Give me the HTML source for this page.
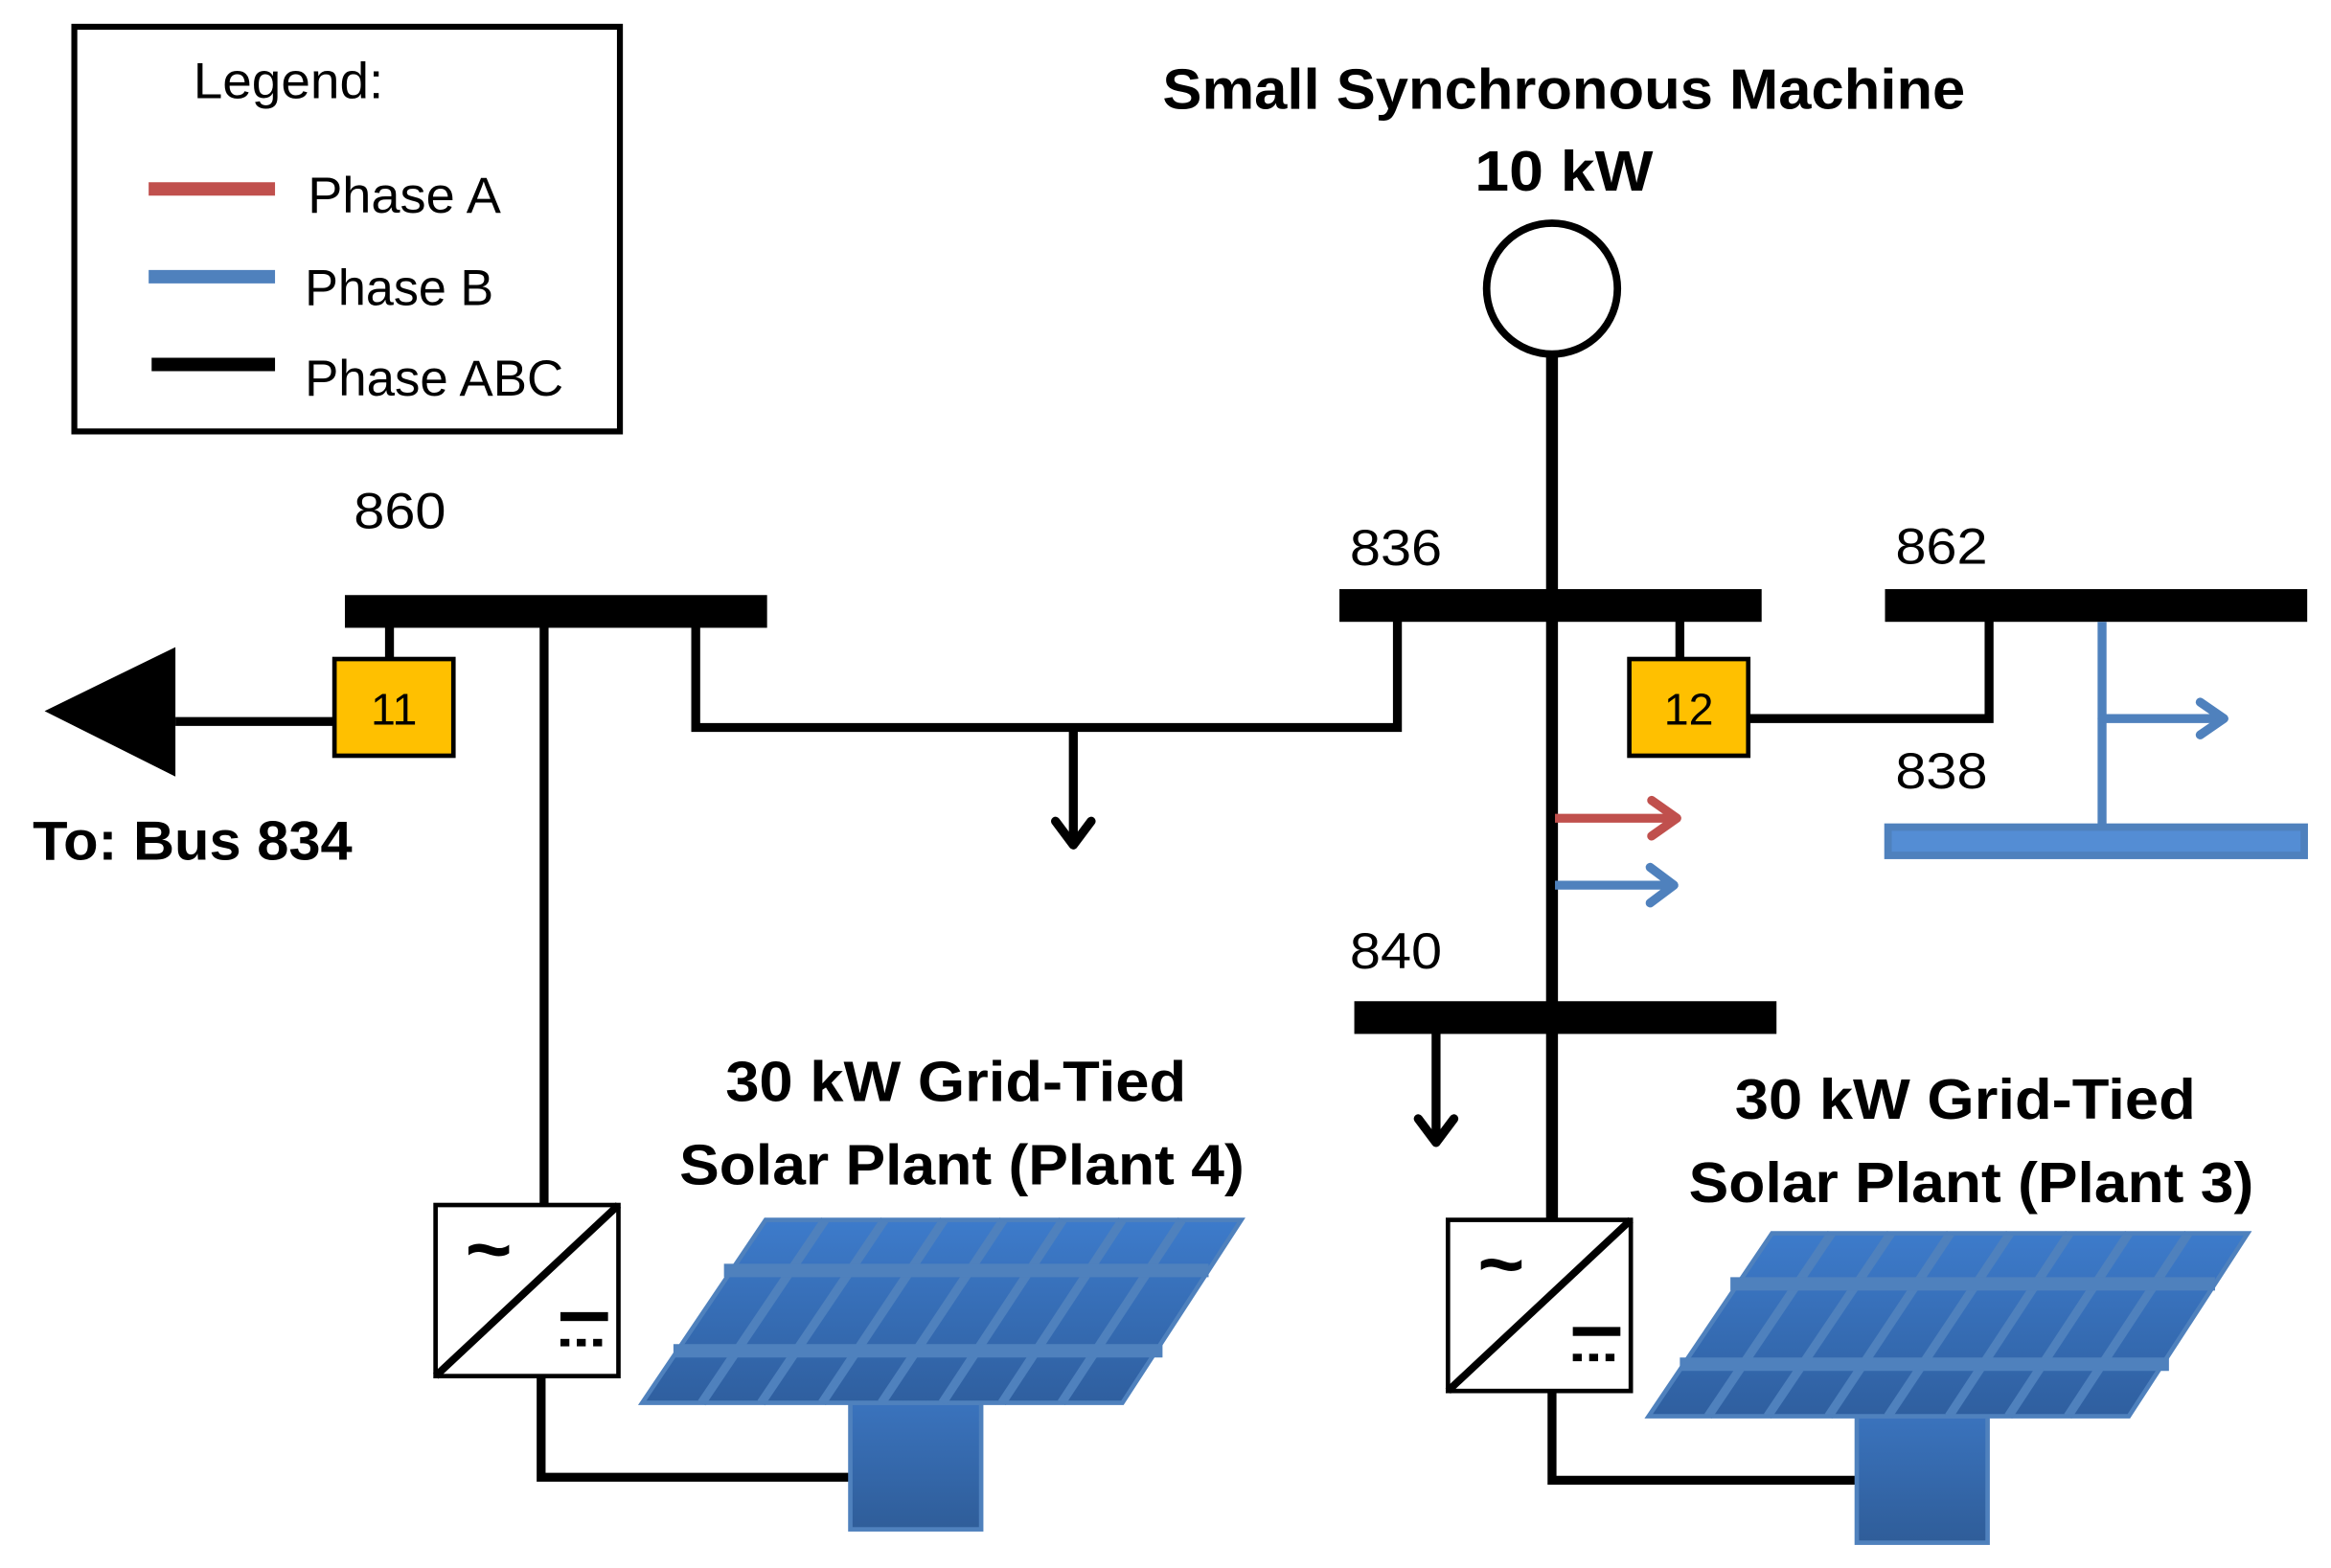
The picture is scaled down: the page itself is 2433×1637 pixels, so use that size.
<!DOCTYPE html>
<html><head><meta charset="utf-8"><style>
html,body{margin:0;padding:0;background:#fff;}
svg{display:block;}
text{font-family:"Liberation Sans",sans-serif;}
</style></head><body>
<svg width="2433" height="1637" viewBox="0 0 1568 1054" preserveAspectRatio="none" xmlns="http://www.w3.org/2000/svg">
<defs>
<linearGradient id="pg" x1="0" y1="0" x2="0" y2="1"><stop offset="0" stop-color="#3d7bcb"/><stop offset="1" stop-color="#2f5f9f"/></linearGradient>
<linearGradient id="sg" x1="0" y1="0" x2="0" y2="1"><stop offset="0" stop-color="#3a73bd"/><stop offset="1" stop-color="#2f5d99"/></linearGradient>
<g id="panel">
  <rect x="572" y="943" width="88" height="85" fill="url(#sg)" stroke="#4f81bd" stroke-width="3"/>
  <polygon points="515,820 835,820 755,943 432,943" fill="url(#pg)" stroke="#4f81bd" stroke-width="3"/>
  <g stroke="#4f81bd" stroke-width="6">
    <line x1="555" y1="820" x2="472" y2="943"/>
    <line x1="595" y1="820" x2="512" y2="943"/>
    <line x1="635" y1="820" x2="553" y2="943"/>
    <line x1="675" y1="820" x2="593" y2="943"/>
    <line x1="715" y1="820" x2="634" y2="943"/>
    <line x1="755" y1="820" x2="674" y2="943"/>
    <line x1="795" y1="820" x2="714" y2="943"/>
  </g>
  <g stroke="#4f81bd" stroke-width="9">
    <line x1="487" y1="854" x2="813" y2="854"/>
    <line x1="453" y1="908" x2="782" y2="908"/>
  </g>
</g>
<g id="inv">
  <rect x="0" y="0" width="123" height="115" fill="#fff" stroke="#000" stroke-width="3"/>
  <line x1="0" y1="115" x2="123" y2="0" stroke="#000" stroke-width="5"/>
  <text x="20" y="48" font-size="54" font-weight="bold">~</text>
  <rect x="84" y="72" width="32" height="6" fill="#000"/>
  <g fill="#000"><rect x="84" y="90" width="6" height="5"/><rect x="95" y="90" width="6" height="5"/><rect x="106" y="90" width="6" height="5"/></g>
</g>
</defs>

<rect x="50" y="18" width="367" height="272" fill="#fff" stroke="#000" stroke-width="4"/>
<text x="130" y="66" font-size="34" textLength="128" lengthAdjust="spacingAndGlyphs">Legend:</text>
<line x1="100" y1="127" x2="185" y2="127" stroke="#c0504d" stroke-width="9"/>
<line x1="100" y1="186" x2="185" y2="186" stroke="#4f81bd" stroke-width="9"/>
<line x1="102" y1="245" x2="185" y2="245" stroke="#000" stroke-width="9"/>
<text x="207" y="143" font-size="34" textLength="130" lengthAdjust="spacingAndGlyphs">Phase A</text>
<text x="205" y="205" font-size="34" textLength="127" lengthAdjust="spacingAndGlyphs">Phase B</text>
<text x="205" y="266" font-size="34" textLength="174" lengthAdjust="spacingAndGlyphs">Phase ABC</text>

<text x="1052" y="73" font-size="38" font-weight="bold" text-anchor="middle" textLength="540" lengthAdjust="spacingAndGlyphs">Small Synchronous Machine</text>
<text x="1052" y="128" font-size="38" font-weight="bold" text-anchor="middle" textLength="120" lengthAdjust="spacingAndGlyphs">10 kW</text>
<circle cx="1044" cy="194" r="44" fill="#fff" stroke="#000" stroke-width="5"/>

<line x1="1044" y1="238" x2="1044" y2="820" stroke="#000" stroke-width="8"/>

<rect x="232" y="400" width="284" height="22" fill="#000"/>
<rect x="901" y="396" width="284" height="22" fill="#000"/>
<rect x="1268" y="396" width="284" height="22" fill="#000"/>
<rect x="911" y="673" width="284" height="22" fill="#000"/>
<rect x="1270" y="556" width="280" height="19" fill="#548dd4" stroke="#4f81bd" stroke-width="5"/>
<text x="238" y="355" font-size="34" textLength="62" lengthAdjust="spacingAndGlyphs">860</text>
<text x="908" y="380" font-size="34" textLength="62" lengthAdjust="spacingAndGlyphs">836</text>
<text x="1275" y="379" font-size="34" textLength="62" lengthAdjust="spacingAndGlyphs">862</text>
<text x="1275" y="530" font-size="34" textLength="62" lengthAdjust="spacingAndGlyphs">838</text>
<text x="908" y="651" font-size="34" textLength="62" lengthAdjust="spacingAndGlyphs">840</text>

<g stroke="#000" stroke-width="6" fill="none">
  <line x1="262" y1="420" x2="262" y2="445"/>
  <line x1="118" y1="485" x2="226" y2="485"/>
  <line x1="366" y1="420" x2="366" y2="810"/>
  <polyline points="468,420 468,489 940,489 940,416"/>
  <line x1="722" y1="489" x2="722" y2="568"/>
  <polyline points="710,552 722,568 734,552" stroke-linejoin="round" stroke-linecap="round"/>
  <line x1="1130" y1="416" x2="1130" y2="445"/>
  <polyline points="1175,483 1338,483 1338,416"/>
  <line x1="966" y1="693" x2="966" y2="768"/>
  <polyline points="954,752 966,768 978,752" stroke-linejoin="round" stroke-linecap="round"/>
  <polyline points="364,925 364,993 574,993"/>
  <polyline points="1044,933 1044,995 1250,995"/>
</g>
<polygon points="30,478 118,435 118,522" fill="#000"/>
<text x="22" y="578" font-size="37" font-weight="bold" textLength="215" lengthAdjust="spacingAndGlyphs">To: Bus 834</text>

<rect x="225" y="443" width="80" height="65" fill="#ffc000" stroke="#000" stroke-width="3"/>
<text x="265" y="487" font-size="30" text-anchor="middle">11</text>
<rect x="1096" y="443" width="80" height="65" fill="#ffc000" stroke="#000" stroke-width="3"/>
<text x="1136" y="487" font-size="30" text-anchor="middle">12</text>

<g fill="none" stroke-width="6" stroke-linecap="round" stroke-linejoin="round">
  <line x1="1414" y1="418" x2="1414" y2="556" stroke="#4f81bd" stroke-linecap="butt"/>
  <line x1="1414" y1="483" x2="1494" y2="483" stroke="#4f81bd"/>
  <polyline points="1480,472 1496,483 1480,494" stroke="#4f81bd"/>
  <line x1="1046" y1="550" x2="1128" y2="550" stroke="#c0504d" stroke-linecap="butt"/>
  <polyline points="1111,538 1128,550 1111,562" stroke="#c0504d"/>
  <line x1="1046" y1="595" x2="1126" y2="595" stroke="#4f81bd" stroke-linecap="butt"/>
  <polyline points="1110,583 1126,595 1110,607" stroke="#4f81bd"/>
</g>

<use href="#inv" transform="translate(293,810)"/>
<use href="#inv" transform="translate(974,820)"/>

<use href="#panel"/>
<use href="#panel" transform="translate(677,9)"/>

<text x="643" y="740" font-size="38" font-weight="bold" text-anchor="middle" textLength="310" lengthAdjust="spacingAndGlyphs">30 kW Grid-Tied</text>
<text x="647" y="796" font-size="38" font-weight="bold" text-anchor="middle" textLength="380" lengthAdjust="spacingAndGlyphs">Solar Plant (Plant 4)</text>
<text x="1322" y="752" font-size="38" font-weight="bold" text-anchor="middle" textLength="310" lengthAdjust="spacingAndGlyphs">30 kW Grid-Tied</text>
<text x="1326" y="808" font-size="38" font-weight="bold" text-anchor="middle" textLength="380" lengthAdjust="spacingAndGlyphs">Solar Plant (Plant 3)</text>
</svg>
</body></html>
